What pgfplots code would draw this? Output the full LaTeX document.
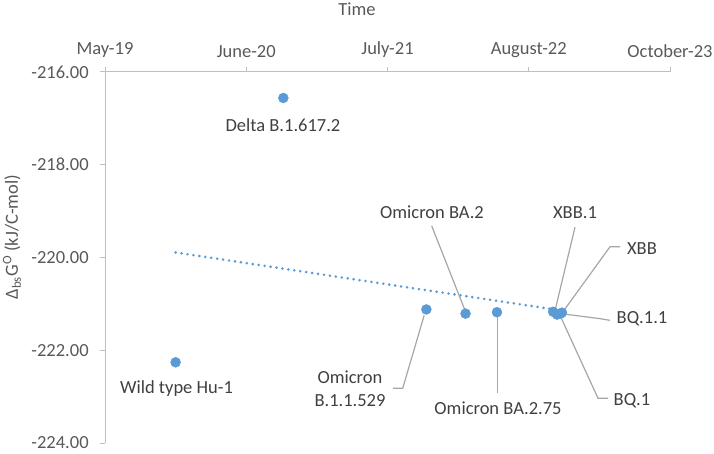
\documentclass[border=0pt]{standalone}
\usepackage{pgfplots}
\usepackage{pgfplotstable}
\pgfplotsset{compat=1.18}
\usepackage{fontspec}
\setmainfont{Carlito}
\definecolor{ptblue}{HTML}{5B9BD5}
\definecolor{axgray}{HTML}{BFBFBF}
\definecolor{txtgray}{HTML}{595959}
\definecolor{lblgray}{HTML}{404040}
\definecolor{leadgray}{HTML}{A6A6A6}

\pgfplotstableread{
x y
200 -222.26
505 -216.56
910 -221.12
1021 -221.21
1110 -221.18
1269 -221.17
1280 -221.23
1289 -221.21
1294 -221.19
}\data

\begin{document}
\fontsize{18.5}{23}\selectfont
\begin{tikzpicture}[x=1pt,y=1pt]
\useasboundingbox (0,0) rectangle (714,453);
\begin{axis}[
  at={(105pt,381pt)}, anchor=north west,
  scale only axis, width=565pt, height=371pt,
  xmin=0, xmax=1600, ymin=-224, ymax=-216,
  axis x line*=top, axis y line*=left,
  axis line style={axgray, line width=1pt, -},
  xtick={0,400,800,1200,1600},
  xticklabels={May-19,June-20,July-21,August-22,October-23},
  ytick={-224,-222,-220,-218,-216},
  tick align=outside, major tick length=5pt,
  tick style={axgray, line width=1pt},
  /pgf/number format/fixed,
  /pgf/number format/fixed zerofill,
  /pgf/number format/precision=2,
  /pgf/number format/assume math mode=true,
  ticklabel style={font=\fontsize{18.5}{22}\selectfont, text=txtgray},
  yticklabel style={xshift=-5pt},
  xticklabel style={yshift=3pt},
  clip=false,
]
\addplot[ptblue, line width=2.9pt, line cap=round, dash pattern=on 0pt off 6pt]
  table[x=x, y={create col/linear regression={y=y}}]{\data};
\addplot[only marks, mark=*, mark size=5pt, mark options={fill=ptblue, draw=ptblue}]
  table[x=x, y=y]{\data};

% leader lines
\draw[leadgray, line width=1.2pt] (axis cs:815.6,-222.82) -- (axis cs:843,-222.82) -- (axis cs:903.9,-221.248);
\draw[leadgray, line width=1.2pt] (axis cs:925.1,-219.318) -- (axis cs:1019.5,-221.14);
\draw[leadgray, line width=1.2pt] (axis cs:1112,-222.928) -- (axis cs:1112,-221.276);
\draw[leadgray, line width=1.2pt] (axis cs:1331,-219.346) -- (axis cs:1274.3,-221.147);
\draw[leadgray, line width=1.2pt] (axis cs:1458.4,-219.768) -- (axis cs:1430.1,-219.768) -- (axis cs:1296.9,-221.169);
\draw[leadgray, line width=1.2pt] (axis cs:1430.1,-221.355) -- (axis cs:1401.8,-221.319) -- (axis cs:1293.3,-221.212);
\draw[leadgray, line width=1.2pt] (axis cs:1424.4,-223.035) -- (axis cs:1396.1,-223.035) -- (axis cs:1288.5,-221.248);

% data labels
\node[lblgray] at (axis cs:504,-217.137) {Delta B.1.617.2};
\node[lblgray] at (axis cs:202.5,-222.82) {Wild type Hu-1};
\node[lblgray, align=center] at (axis cs:693.8,-222.84) {Omicron\\B.1.1.529};
\node[lblgray] at (axis cs:926,-219.024) {Omicron BA.2};
\node[lblgray] at (axis cs:1113,-223.25) {Omicron BA.2.75};
\node[lblgray] at (axis cs:1331,-219.024) {XBB.1};
\node[lblgray] at (axis cs:1520.7,-219.818) {XBB};
\node[lblgray] at (axis cs:1520.7,-221.319) {BQ.1.1};
\node[lblgray] at (axis cs:1492.4,-223.078) {BQ.1};
\end{axis}
\node[txtgray] at (357,444) {Time};
\node[txtgray, rotate=90] at (12,216) {Δ\textsubscript{bs}G\textsuperscript{O} (kJ/C-mol)};
\end{tikzpicture}
\end{document}
